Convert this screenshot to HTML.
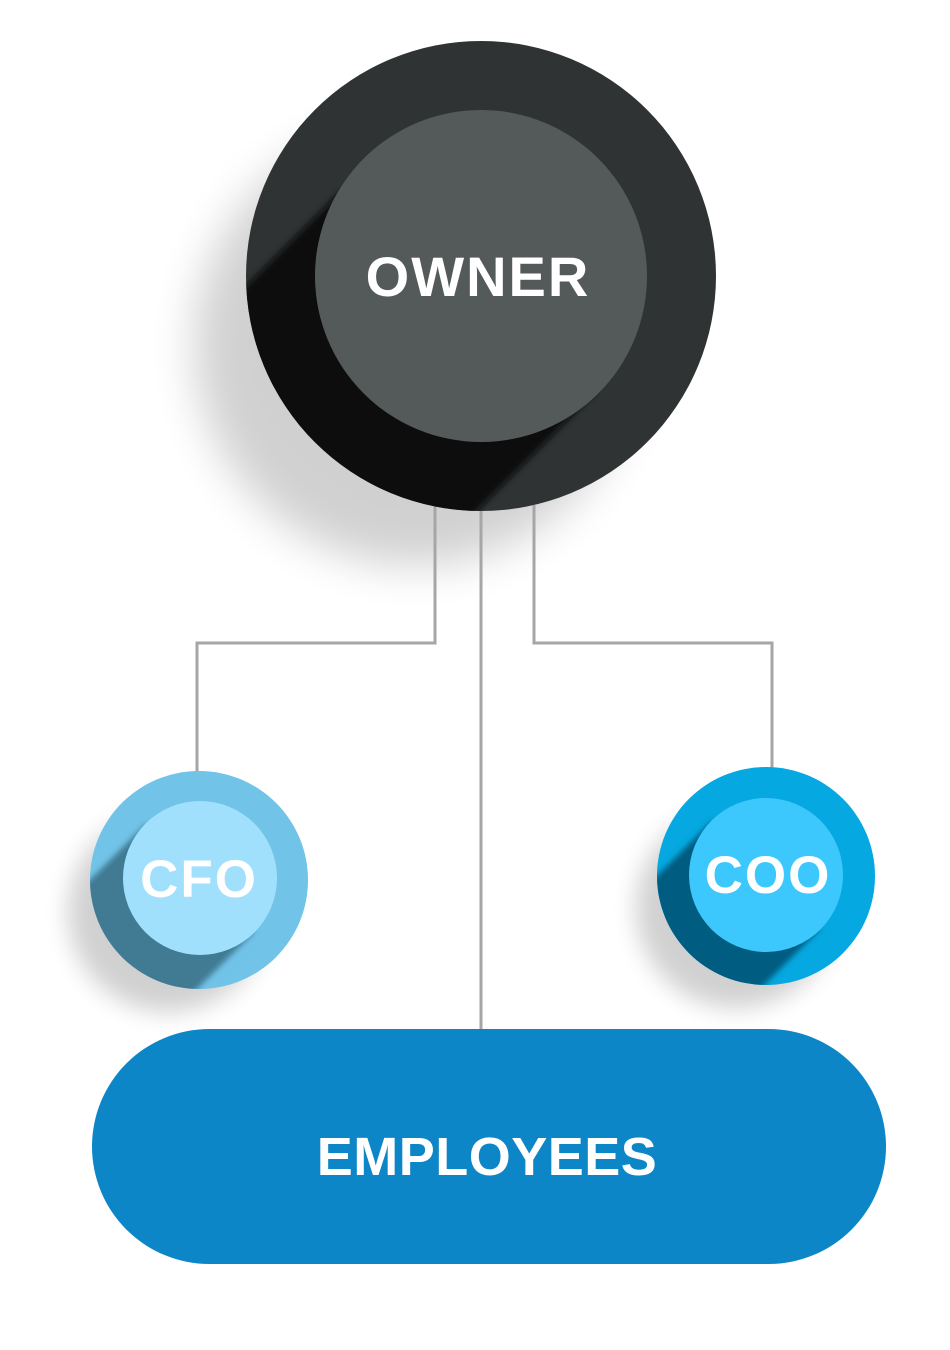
<!DOCTYPE html>
<html><head><meta charset="utf-8"><style>
html,body{margin:0;padding:0;background:#fff;width:950px;height:1350px;overflow:hidden}
svg{display:block}
text{font-family:"Liberation Sans",sans-serif;font-weight:bold;fill:#fff}
</style></head><body>
<svg width="950" height="1350" viewBox="0 0 950 1350">
<defs>
<filter id="blur" x="-50%" y="-50%" width="200%" height="200%"><feGaussianBlur stdDeviation="22"/></filter>
<filter id="blur2" x="-50%" y="-50%" width="200%" height="200%"><feGaussianBlur stdDeviation="12"/></filter>
<filter id="soft" x="-20%" y="-20%" width="140%" height="140%"><feGaussianBlur stdDeviation="3"/></filter>
<clipPath id="co"><circle cx="481" cy="276" r="235"/></clipPath>
<clipPath id="cc"><circle cx="199" cy="880" r="109"/></clipPath>
<clipPath id="cr"><circle cx="766" cy="876" r="109"/></clipPath>
</defs>
<circle cx="415" cy="345" r="220" fill="#000" opacity="0.18" filter="url(#blur)"/>
<circle cx="168" cy="912" r="100" fill="#000" opacity="0.18" filter="url(#blur2)"/>
<circle cx="736" cy="908" r="100" fill="#000" opacity="0.18" filter="url(#blur2)"/>
<g stroke="#a6a6a6" stroke-width="3" fill="none">
<line x1="481" y1="505" x2="481" y2="1030"/>
<polyline points="435,505 435,643 197,643 197,772"/>
<polyline points="534,505 534,643 772,643 772,768"/>
</g>
<circle cx="481" cy="276" r="235" fill="#303334"/>
<g clip-path="url(#co)"><polygon filter="url(#soft)" points="370,162 598,390 98,890 -130,662" fill="#0a0c0c"/></g>
<circle cx="481" cy="276" r="166" fill="#545a5a"/>
<text x="478" y="296" font-size="56" text-anchor="middle" letter-spacing="2">OWNER</text>
<circle cx="199" cy="880" r="109" fill="#71c3e8"/>
<g clip-path="url(#cc)"><polygon filter="url(#soft)" points="146,824 254,932 54,1132 -54,1024" fill="#417a93"/></g>
<circle cx="200" cy="878" r="77" fill="#a0e0fd"/>
<text x="199" y="897" font-size="53" text-anchor="middle" letter-spacing="2">CFO</text>
<circle cx="766" cy="876" r="109" fill="#05a8e0"/>
<g clip-path="url(#cr)"><polygon filter="url(#soft)" points="712,821 820,929 620,1129 512,1021" fill="#035c80"/></g>
<circle cx="766" cy="875" r="77" fill="#3cc8fd"/>
<text x="768" y="893" font-size="53" text-anchor="middle" letter-spacing="2">COO</text>
<rect x="92" y="1029" width="794" height="235" rx="117.5" fill="#0d86c8"/>
<text x="487" y="1175" font-size="54" text-anchor="middle" letter-spacing="0.5">EMPLOYEES</text>
</svg>
</body></html>
